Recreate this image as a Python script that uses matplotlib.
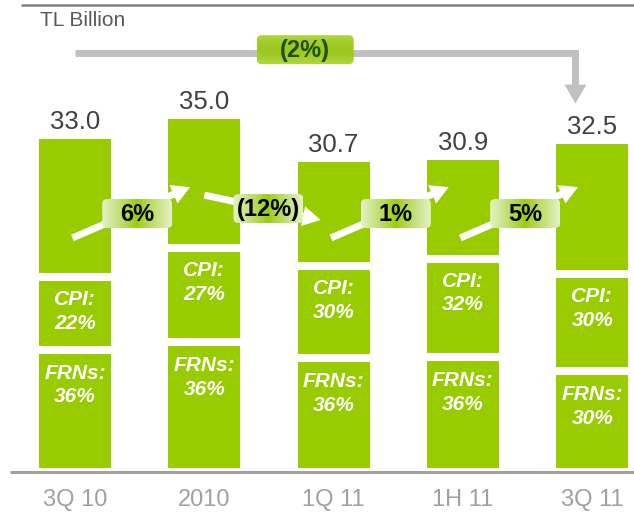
import numpy as np
import matplotlib
matplotlib.use("Agg")
import matplotlib.pyplot as plt
from matplotlib.patches import FancyBboxPatch, FancyArrow, Polygon

# ---------------- data ----------------
periods = ["3Q 10", "2010", "1Q 11", "1H 11", "3Q 11"]
totals = [33.0, 35.0, 30.7, 30.9, 32.5]
cpi_pct = [22, 27, 30, 32, 30]
frn_pct = [36, 36, 36, 36, 30]
growth_labels = ["6%", "(12%)", "1%", "5%"]
growth_up = [True, False, True, True]
overall_label = "(2%)"
unit_label = "TL Billion"

GREEN = "#99cc00"
FONT = "Liberation Sans"
plt.rcParams["font.family"] = [FONT, "DejaVu Sans"]

W, H = 634, 513
fig = plt.figure(figsize=(W / 100, H / 100), dpi=100)
ax = fig.add_axes([0, 0, 1, 1])
ax.set_xlim(-0.58, 4.323)
ax.set_ylim(-4.52, 46.99)
ax.axis("off")

# overlay in pixel coordinates (top-down)
ov = fig.add_axes([0, 0, 1, 1], zorder=5)
ov.set_xlim(0, W)
ov.set_ylim(H, 0)
ov.axis("off")
ov.patch.set_alpha(0)


def to_px(x, y):
    d = ax.transData.transform((x, y))
    return ov.transData.inverted().transform(d)


x = np.arange(len(periods))
totals_a = np.array(totals)
frn = totals_a * np.array(frn_pct) / 100
cpi = totals_a * np.array(cpi_pct) / 100
rest = totals_a - frn - cpi
bw = 0.557

ax.bar(x, frn, width=bw, color=GREEN, zorder=2)
ax.bar(x, cpi, bottom=frn, width=bw, color=GREEN, zorder=2)
ax.bar(x, rest, bottom=frn + cpi, width=bw, color=GREEN, zorder=2)

# white separators between segments
for b in (frn, frn + cpi):
    ax.hlines(b, x - bw / 2 - 0.01, x + bw / 2 + 0.01, color="white", lw=5.8, zorder=3)

for i in range(len(x)):
    ax.text(x[i], frn[i] + cpi[i] - 1.3, f"CPI:\n{cpi_pct[i]}%", ha="center", va="top",
            color="white", fontsize=15, fontweight="bold", fontstyle="italic",
            linespacing=1.32, zorder=4)
    ax.text(x[i], frn[i] - 1.4, f"FRNs:\n{frn_pct[i]}%", ha="center", va="top",
            color="white", fontsize=15, fontweight="bold", fontstyle="italic",
            linespacing=1.32, zorder=4)
    ax.text(x[i], totals[i] + 1.0, f"{totals[i]:.1f}", ha="center", va="baseline",
            color="#404040", fontsize=18.5, zorder=4)
    ax.text(x[i], -3.2, periods[i], ha="center", va="center", color="#a0a0a0", fontsize=17)

# axis line and top rule
ov.plot([10, W], [471.5, 471.5], color="#a0a0a0", lw=2.2, solid_capstyle="butt")
ov.plot([21, W], [4.5, 4.5], color="#808080", lw=1.8, solid_capstyle="butt")
ov.text(40, 20.5, unit_label, ha="left", va="center", color="#595959", fontsize=15)


def gradient_box(cx, cy, w, h, text, fs=17, tcolor="black", mode="h"):
    patch = FancyBboxPatch((cx - w / 2, cy - h / 2), w, h,
                           boxstyle="round,pad=0,rounding_size=5",
                           facecolor="none", edgecolor="none", zorder=6)
    ov.add_patch(patch)
    t = np.linspace(0, 1, 200)
    if mode == "h":
        center = np.array([0x9a, 0xcc, 0x10]) / 255
        edge = np.array([0xe4, 0xf1, 0xc8]) / 255
        prof = np.abs(2 * t - 1) ** 0.9
        img = center[None, :] + (edge - center)[None, :] * prof[:, None]
        img = img[None, :, :]
    else:
        top = np.array([0xb0, 0xd8, 0x3c]) / 255
        mid = np.array([0x9c, 0xc8, 0x22]) / 255
        prof = np.abs(2 * t - 1) ** 1.5
        img = mid[None, :] + (top - mid)[None, :] * prof[:, None]
        img = img[:, None, :]
    im = ov.imshow(img, extent=(cx - w / 2, cx + w / 2, cy + h / 2, cy - h / 2),
                   aspect="auto", zorder=6, interpolation="bilinear")
    im.set_clip_path(patch)
    ov.text(cx, cy + 1, text, ha="center", va="center", fontsize=fs, fontweight="bold",
            color=tcolor, zorder=7)


# growth arrows between bars
for i, (lab, up) in enumerate(zip(growth_labels, growth_up)):
    if up:
        p0 = to_px(i - 0.02, 23.1)
        p1 = to_px(i + 0.89, 28.2)
    else:
        p0 = to_px(i + 0.0, 27.4)
        p1 = to_px(i + 0.9, 24.9)
    arr = FancyArrow(p0[0], p0[1], p1[0] - p0[0], p1[1] - p0[1], width=7, head_width=20,
                     head_length=18, length_includes_head=True, color="white", lw=0, zorder=5)
    ov.add_patch(arr)
    cx = (p0[0] + p1[0]) / 2 + 6
    cy = (p0[1] + p1[1]) / 2 + 1
    gradient_box(cx, cy, 70, 29, lab)

# overall change arrow (gray)
ps = to_px(0, 41.7)
pe = to_px(3.87, 41.7)
pdn = to_px(3.87, 38.5)
ptip = to_px(3.87, 36.6)
ov.plot([ps[0], pe[0], pe[0]], [ps[1], pe[1], pdn[1] + 1], color="#c0c0c0", lw=5.0,
        solid_joinstyle="miter", solid_capstyle="butt", zorder=4)
ov.add_patch(Polygon([[pe[0] - 11, pdn[1]], [pe[0] + 11, pdn[1]], [pe[0], ptip[1]]],
                     closed=True, color="#c0c0c0", lw=0, zorder=4))
bx = ps[0] + 0.46 * (pe[0] - ps[0])
gradient_box(bx, ps[1] - 3, 97, 29, overall_label, fs=17, tcolor="#1f4f00", mode="v")

ov.set_xlim(0, W)
ov.set_ylim(H, 0)
fig.savefig("out.png", dpi=100)
